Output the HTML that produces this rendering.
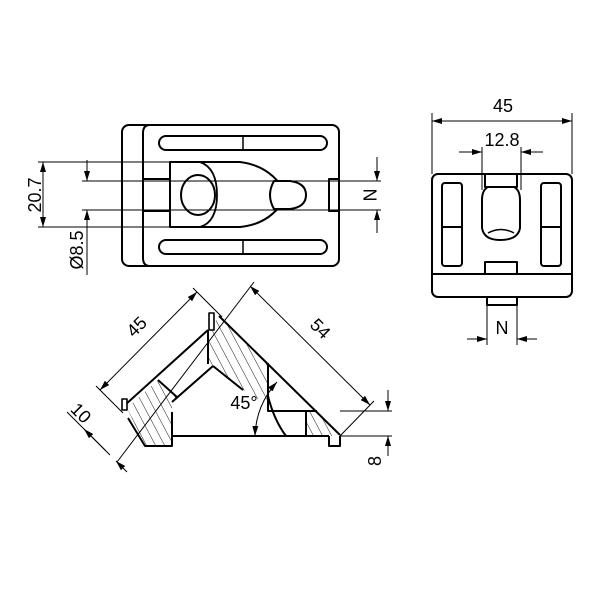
<!DOCTYPE html>
<html><head><style>html,body{margin:0;background:#fff}svg{display:block}</style></head><body>
<svg width="600" height="600" viewBox="0 0 600 600" xmlns="http://www.w3.org/2000/svg" font-family="Liberation Sans, sans-serif">
<defs>
<marker id="a" viewBox="0 0 10 6" refX="10" refY="3" markerWidth="10" markerHeight="6" orient="auto-start-reverse" markerUnits="userSpaceOnUse"><path d="M0,0L10,3L0,6z" fill="#000"/></marker>
<pattern id="h" width="8" height="8" patternUnits="userSpaceOnUse" patternTransform="rotate(-28)"><line x1="0" y1="0" x2="0" y2="8" stroke="#000" stroke-width="0.9"/></pattern>
</defs>
<g fill="none" stroke="#000" stroke-width="2" stroke-linejoin="round">
<!-- top view -->
<rect x="122" y="125" width="217" height="141" rx="7"/>
<path d="M150,125 Q143,125 143,133 V258 Q143,266 150,266"/>
<rect x="159" y="136" width="168" height="14" rx="7"/>
<rect x="159" y="240" width="168" height="14" rx="7"/>
<path d="M243,136 V150 M243,240 V254" stroke-width="1.5"/>
<path d="M170,162 H240 Q272,166 287,195 Q272,224 240,227 H170 Z"/>
<path d="M200,162 Q217,168 217,195 Q217,222 200,227" stroke-width="1.8"/>
<ellipse cx="198" cy="195" rx="17" ry="20"/>
<path d="M274,181 H290 Q306,183 306,195 Q306,207 290,209 H274 Q266,195 274,181 Z" fill="#fff"/>
<path d="M143,179 H170 M143,211 H170"/>
<rect x="329" y="179" width="10" height="32"/>
<!-- right view -->
<rect x="432" y="174" width="140" height="123" rx="6"/>
<path d="M432,274 H572"/>
<rect x="442" y="183" width="20" height="83" rx="3"/>
<rect x="541" y="183" width="20" height="83" rx="3"/>
<path d="M442,227 H462 M541,227 H561"/>
<rect x="485" y="174" width="32" height="13"/>
<path d="M488,187 Q482,190 482,200 V228 Q484,240 500,240 Q518,240 520,228 V200 Q520,190 514,187"/>
<path d="M488,233 Q501,226 514,233" stroke-width="1.5"/>
<path d="M485,274 V262 H517 V274"/>
<rect x="487" y="297" width="30" height="8"/>
</g>
<g stroke="none" fill="url(#h)">
<polygon points="127,408 158,380 178,398 172,404 172,446 145,446"/>
<polygon points="209,330 219,316 268,363 268,405 243,390 213,366 209,363"/>
<polygon points="306,411 317,411 340,436 306,436"/>
</g>
<g fill="none" stroke="#000" stroke-width="2" stroke-linejoin="round">
<!-- bottom view -->
<path d="M172,436 H329"/>
<path d="M125,405 L208,330 M219,316 L340,435"/>
<path d="M208,330 V364 M213,366 L172,402 M172,412 V446 H145 L128,418 M268,363 V411 H317 M329,436 V446 H340 V436"/>
<path d="M213,366 L243,390 M158,380 L178,398"/>
<path d="M268,396 Q274,420 286,436"/>
<rect x="209" y="313" width="5" height="17" stroke-width="1.6" fill="#fff"/>
<rect x="122" y="399" width="5" height="11" stroke-width="1.6" fill="#fff"/>
<path d="M306,411 V436"/>
</g>
<g fill="none" stroke="#000" stroke-width="1">
<!-- top view dims -->
<path d="M38,162 H205 M82,181 H381 M82,210 H381 M38,227 H205"/>
<path d="M43,162 V227" marker-start="url(#a)" marker-end="url(#a)"/>
<path d="M87,160 V181" marker-end="url(#a)"/>
<path d="M87,210 V275" marker-start="url(#a)"/>
<path d="M377,157 V181" marker-end="url(#a)"/>
<path d="M377,233 V210" marker-end="url(#a)"/>
<!-- right view dims -->
<path d="M432,113 V174 M572,113 V174 M482,147 V190 M521,147 V190 M487,305 V345 M517,305 V345"/>
<path d="M432,121 H572" marker-start="url(#a)" marker-end="url(#a)"/>
<path d="M459,152 H482" marker-end="url(#a)"/>
<path d="M543,152 H521" marker-end="url(#a)"/>
<path d="M467,339 H487" marker-end="url(#a)"/>
<path d="M537,339 H517" marker-end="url(#a)"/>
<!-- bottom view dims -->
<path d="M100,390 L197,292" marker-start="url(#a)" marker-end="url(#a)"/>
<path d="M193,288 L222,317 M96,386 L123,413"/>
<path d="M250,286 L370,405" marker-start="url(#a)" marker-end="url(#a)"/>
<path d="M254,282 L117,462 M374,401 L340,436"/>
<path d="M67,412 L110,455"/>
<path d="M106,451 L84,429" marker-end="url(#a)"/>
<path d="M127,472 L116,461" marker-end="url(#a)"/>
<path d="M340,411 H392 M340,436 H392"/>
<path d="M388,390 V411" marker-end="url(#a)"/>
<path d="M388,456 V436" marker-end="url(#a)"/>
<path d="M277,382 Q256,405 255,436" marker-start="url(#a)" marker-end="url(#a)"/>
</g>
<g font-size="18" fill="#000" text-anchor="middle">
<text transform="translate(36,195) rotate(-90)" dominant-baseline="middle">20.7</text>
<text transform="translate(78,250) rotate(-90)" dominant-baseline="middle">Ø8.5</text>
<text transform="translate(368,195) rotate(90)" dominant-baseline="middle">N</text>
<text x="503" y="112">45</text>
<text x="502" y="146">12.8</text>
<text x="502" y="334">N</text>
<text transform="translate(141,331) rotate(-45)">45</text>
<text transform="translate(316,333) rotate(45)">54</text>
<text transform="translate(80,414) rotate(45)" dominant-baseline="middle">10</text>
<text x="244" y="409">45°</text>
<text transform="translate(376,461) rotate(-90)" dominant-baseline="middle">8</text>
</g>
</svg>
</body></html>
